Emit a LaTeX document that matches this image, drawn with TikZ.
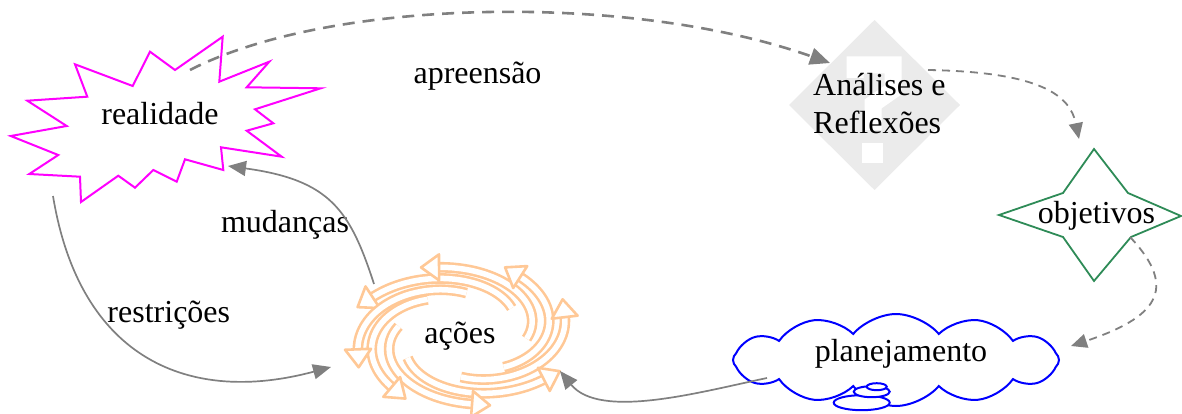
\documentclass[tikz,border=0pt]{standalone}
\usepackage{fontspec}
\setmainfont{Liberation Serif}
\usetikzlibrary{arrows.meta,shapes.symbols}
\definecolor{linkgray}{HTML}{808080}
\definecolor{burst}{HTML}{FF00FF}
\definecolor{seagreen}{HTML}{2E8B57}
\definecolor{peach}{HTML}{FFC896}
\definecolor{qgray}{HTML}{EBEBEB}

\begin{document}
\begin{tikzpicture}[x=1pt,y=-1pt,
  lbl/.style={inner sep=0pt, anchor=base, font=\fontsize{32}{37}\selectfont},
  solidlink/.style={draw=linkgray, line width=1.7pt,
    -{Triangle[length=18pt,width=15pt]}},
  bigdash/.style={draw=linkgray, line width=2.6pt, dash pattern=on 12pt off 8pt,
    -{Triangle[length=20pt,width=17pt]}},
  smalldash/.style={draw=linkgray, line width=1.8pt, dash pattern=on 8pt off 6pt,
    -{Triangle[length=16pt,width=14pt]}},
  arm/.style={draw=peach, line width=2.6pt, double=white, double distance=5.5pt,
    line join=round},
  armhead/.style={draw=peach, line width=2.6pt, fill=white, line join=round}
]
\useasboundingbox (0,0) rectangle (1182,414);

% --- realidade: irregular burst
\draw[burst, line width=2pt, line join=miter]
  (222.7,36.7) -- (219.3,81.7) -- (269.3,61.7) -- (246.7,87.3) -- (320.7,88.3)
  -- (255,109.3) -- (273.3,123.3) -- (246.7,130.7) -- (281.7,156.7) -- (221,147.3)
  -- (223.3,170) -- (185,159.3) -- (176.7,181.7) -- (153.3,170) -- (135,187.7)
  -- (118.3,175.7) -- (81,202) -- (80,176.7) -- (29.3,174) -- (58.3,155)
  -- (10.7,136) -- (66.7,126) -- (27.3,100.7) -- (87.3,96.7) -- (75,64.3)
  -- (132.7,86) -- (150,51.7) -- (175,70) -- cycle;
\node[lbl] (real) at (160,125) {realidade};

% --- Analises e Reflexoes: grey diamond with a white question mark
\fill[qgray] (874.5,20) -- (960,105) -- (874.5,190) -- (789,105) -- cycle;
\draw[white, line width=17pt, line join=miter]
  (855,78) -- (855,65) -- (893,65) -- (893,90) -- (873,104) -- (873,130);
\fill[white] (862,143) rectangle (883,163);
\node[lbl, anchor=base west] (anal) at (813,95.7) {Análises e};
\node[lbl, anchor=base west] (refl) at (813,133.3) {Reflexões};

% --- objetivos: four-point star
\draw[seagreen, line width=1.8pt]
  (1094,149) -- (1128,193) -- (1181,216) -- (1131,237) -- (1094,281)
  -- (1063,237) -- (999,215) -- (1063,193) -- cycle;
\node[lbl] (obj) at (1096.5,223.3) {objetivos};

% --- acoes: swirl of ribbon arrows, each arm ends in an open head
\foreach \e in {150,105,60,19,-37,-82,-128,-164} {
  \draw[arm] plot[domain=0:1, samples=24, variable=\s, smooth]
    ({462+108*(0.6+0.4*\s)*cos(\e-110+110*\s)},
     {335-70*(0.6+0.4*\s)*sin(\e-110+110*\s)});
  \pgfmathsetmacro\ex{462+108*cos(\e)}
  \pgfmathsetmacro\ey{335-70*sin(\e)}
  \pgfmathsetmacro\px{462+108*(0.6+0.4*0.95)*cos(\e-110*0.05)}
  \pgfmathsetmacro\py{335-70*(0.6+0.4*0.95)*sin(\e-110*0.05)}
  \pgfmathsetmacro\ang{atan2(\py-\ey,\ex-\px)}
  \begin{scope}[shift={(\ex,\ey)}, rotate=\ang]
    \draw[armhead] (-5,-13) -- (13,0) -- (-5,13) -- cycle;
  \end{scope}
}
\node[lbl] (acoes) at (460,343.3) {ações};

% --- planejamento: cloud
\node[cloud, draw=blue, line width=2pt, cloud puffs=12, cloud puff arc=100,
      aspect=3.6, minimum width=326pt, minimum height=92pt, inner sep=0pt]
      (cloud) at (896,360) {};
\draw[blue, line width=2pt, fill=white] (861.7,402.7) ellipse [x radius=28, y radius=7.5];
\draw[blue, line width=2pt, fill=white] (871.7,391.7) ellipse [x radius=18, y radius=5.5];
\draw[blue, line width=2pt, fill=white] (876.7,386.7) ellipse [x radius=10, y radius=3.5];
\node[lbl] (plan) at (901,361.7) {planejamento};

% --- connector labels
\node[lbl] (lapr) at (477.5,84) {apreensão};
\node[lbl] (lmud) at (285,232.3) {mudanças};
\node[lbl] (lres) at (168.8,322.7) {restrições};

% --- connector end points
\coordinate (real-out) at (190,70);
\coordinate (anal-in) at (830,63);
\coordinate (anal-out) at (928,70);
\coordinate (obj-in) at (1079,139);
\coordinate (obj-out) at (1130,237);
\coordinate (plan-in) at (1071,346);
\coordinate (plan-out) at (767,378);
\coordinate (acoes-in) at (560,371);
\coordinate (acoes-out) at (374,284);
\coordinate (real-in) at (228,166);
\coordinate (real-down) at (53,196);
\coordinate (acoes-left) at (331,367);

% --- connectors
\draw[bigdash] (real-out) .. controls (330,-2) and (630,-8) .. (anal-in);
\draw[smalldash] (anal-out) .. controls (1040,72) and (1070,95) .. (obj-in);
\draw[smalldash] (obj-out) .. controls (1180,290) and (1155,318) .. (plan-in);
\draw[solidlink] (plan-out) .. controls (700,392) and (600,420) .. (acoes-in);
\draw[solidlink] (acoes-out) .. controls (350,210) and (330,180) .. (real-in);
\draw[solidlink] (real-down) .. controls (80,360) and (190,405) .. (acoes-left);
\end{tikzpicture}
\end{document}
